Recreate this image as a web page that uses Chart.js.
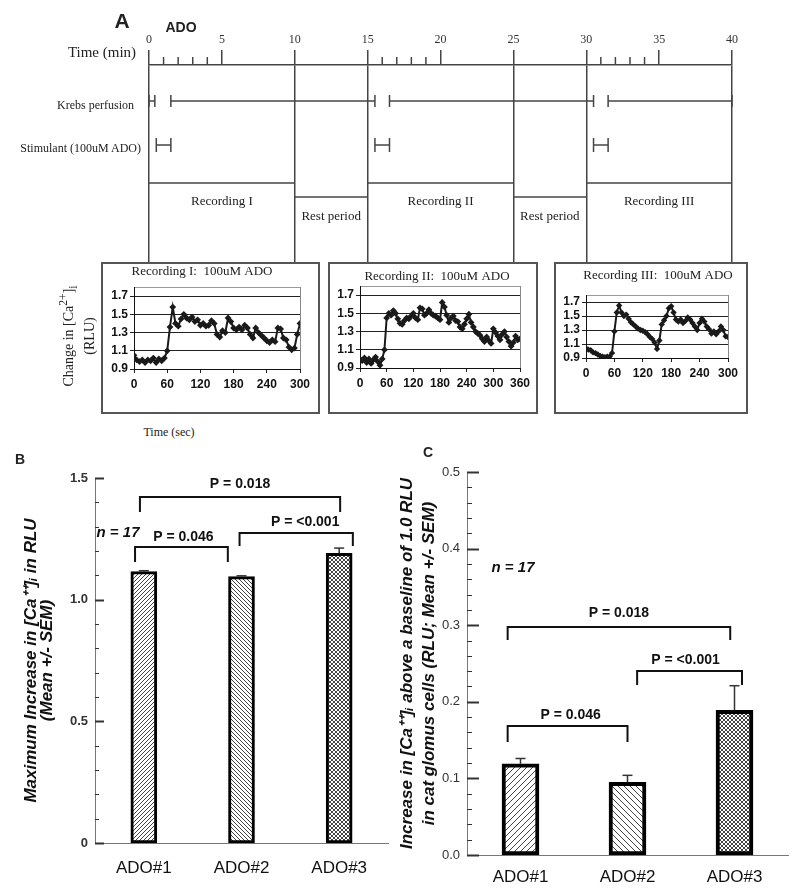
<!DOCTYPE html>
<html>
<head>
<meta charset="utf-8">
<title>ADO and glomus cell calcium</title>
<script src="https://cdn.jsdelivr.net/npm/chart.js@4.4.1/dist/chart.umd.min.js"></script>
<style>
  body { margin: 0; background: #fff; }
  #fig { position: relative; width: 800px; height: 892px; overflow: hidden; background: #fff; color: #222;
         font-family: 'Liberation Serif', 'Times New Roman', serif; }
  #fig canvas { position: absolute; }
  .box { position: absolute; border: 2px solid #555; box-sizing: border-box; }
  .t { position: absolute; white-space: nowrap; line-height: 1; transform: translate(-50%, -50%); }
  .r { transform: translate(-100%, -50%); }
  .v { transform: translate(-50%, -50%) rotate(-90deg); text-align: center; }
  .sans { font-family: 'Liberation Sans', Arial, sans-serif; font-weight: bold; }
</style>
</head>
<body>
<div id="fig">
  <canvas id="timeline" width="800" height="263" style="left:0;top:0"></canvas>
  <div class="t sans" style="left:122px;top:20px;font-size:21px">A</div>
  <div class="t sans" style="left:181px;top:27px;font-size:14px">ADO</div>
  <div class="t" style="left:102px;top:52px;font-size:15px">Time (min)</div>
  <div class="t r" style="left:134px;top:105px;font-size:12px">Krebs perfusion</div>
  <div class="t r" style="left:141px;top:148px;font-size:12px">Stimulant (100uM ADO)</div>

  <div class="box" style="left:101px;top:262px;width:219px;height:152px"></div>
  <div class="box" style="left:328px;top:262px;width:210px;height:152px"></div>
  <div class="box" style="left:554px;top:262px;width:194px;height:152px"></div>
  <canvas id="rec1" width="215" height="148" style="left:103px;top:264px"></canvas>
  <canvas id="rec2" width="206" height="148" style="left:330px;top:264px"></canvas>
  <canvas id="rec3" width="190" height="148" style="left:556px;top:264px"></canvas>
  <div class="t v" style="left:77px;top:336px;font-size:14px;line-height:17px">Change in [Ca<sup>2+</sup>]<sub>i</sub><br>(RLU)</div>
  <div class="t" style="left:169px;top:432px;font-size:12px">Time (sec)</div>

  <canvas id="barB" width="400" height="450" style="left:0;top:440px"></canvas>
  <canvas id="barC" width="408" height="450" style="left:392px;top:440px"></canvas>
  <div class="t sans" style="left:20px;top:459px;font-size:14px">B</div>
  <div class="t sans" style="left:428px;top:452px;font-size:14px">C</div>
</div>

<script>
const SERIF = "'Liberation Serif', 'Times New Roman', serif";
const SANS = "'Liberation Sans', Arial, sans-serif";
const NARROW = "'Liberation Sans Narrow', 'Liberation Sans', Arial, sans-serif";

// --- panel A: protocol, in minutes ---
const minuteTicks = [0, 5, 10, 15, 20, 25, 30, 35, 40];
const minorMinutes = [1, 2, 3, 4, 16, 17, 18, 19, 31, 32, 33, 34];
const boundaries = [0, 10, 15, 25, 30, 40];
const krebs = [[0, 0.4], [1.5, 15.5], [16.5, 30.5], [31.5, 40]];
const stimulant = [[0.5, 1.5], [15.5, 16.5], [30.5, 31.5]];
const recordings = [[0, 10], [15, 25], [30, 40]];
const recordingNames = ['Recording I', 'Recording II', 'Recording III'];
const rests = [[10, 15], [25, 30]];

// --- panel A: traces, change in [Ca2+]i (RLU), one reading every 5 s ---
const SAMPLE_SEC = 5;
const rec1 = [1.05, 1.00, 0.98, 1.00, 0.97, 1.00, 0.99, 1.02, 0.97, 1.01, 0.99, 1.02,
  1.10, 1.36, 1.58, 1.40, 1.37, 1.45, 1.50, 1.46, 1.44, 1.47, 1.42, 1.44,
  1.38, 1.40, 1.37, 1.38, 1.43, 1.40, 1.28, 1.25, 1.32, 1.30, 1.46, 1.42,
  1.35, 1.33, 1.36, 1.33, 1.38, 1.35, 1.28, 1.24, 1.35, 1.30, 1.27, 1.24,
  1.21, 1.19, 1.22, 1.20, 1.35, 1.34, 1.24, 1.22, 1.14, 1.11, 1.13, 1.28, 1.40];
const rec2 = [1.00, 0.98, 1.01, 0.96, 1.00, 0.95, 0.99, 1.02, 0.97, 0.93, 1.00,
  1.10, 1.45, 1.50, 1.48, 1.53, 1.50, 1.44, 1.39, 1.38, 1.42, 1.45, 1.44, 1.47,
  1.50, 1.45, 1.43, 1.56, 1.55, 1.48, 1.50, 1.54, 1.50, 1.48, 1.47, 1.45,
  1.43, 1.62, 1.57, 1.48, 1.40, 1.45, 1.47, 1.42, 1.41, 1.35, 1.33, 1.38,
  1.44, 1.49, 1.40, 1.35, 1.30, 1.28, 1.26, 1.22, 1.19, 1.24, 1.20, 1.17,
  1.33, 1.29, 1.25, 1.21, 1.27, 1.30, 1.24, 1.19, 1.14, 1.18, 1.25, 1.21, 1.22];
const rec3 = [1.04, 1.02, 1.01, 0.98, 0.97, 0.95, 0.93, 0.92, 0.91, 0.92, 0.92, 0.97,
  1.28, 1.55, 1.65, 1.55, 1.50, 1.52, 1.46, 1.41, 1.38, 1.35, 1.32, 1.30,
  1.29, 1.27, 1.24, 1.20, 1.17, 1.12, 1.03, 1.15, 1.38, 1.44, 1.50, 1.61,
  1.64, 1.55, 1.45, 1.42, 1.45, 1.40, 1.43, 1.48, 1.45, 1.40, 1.35, 1.30,
  1.40, 1.46, 1.42, 1.35, 1.31, 1.25, 1.28, 1.24, 1.28, 1.35, 1.30, 1.21, 1.20];
const secTicks300 = [0, 60, 120, 180, 240, 300];
const secTicks360 = [0, 60, 120, 180, 240, 300, 360];
const rluTicks = [0.9, 1.1, 1.3, 1.5, 1.7];

// --- panels B and C ---
const groups = ['ADO#1', 'ADO#2', 'ADO#3'];
const maxRise = [1.115, 1.095, 1.19];
const maxRiseSem = [0.004, 0.003, 0.022];
const riseAboveBase = [0.119, 0.095, 0.189];
const riseAboveBaseSem = [0.007, 0.009, 0.032];
const maxRiseTicks = [0, 0.5, 1.0, 1.5];
const aboveBaseTicks = [0, 0.1, 0.2, 0.3, 0.4, 0.5];
const comparedPairs = [[0, 2], [1, 2], [0, 1]];
const pLabels = ['P = 0.018', 'P = <0.001', 'P = 0.046'];
const nLabel = 'n = 17';

Chart.defaults.font.family = SANS;
const base = { responsive: false, animation: false, devicePixelRatio: 1,
  plugins: { legend: { display: false }, tooltip: { enabled: false } } };

function line(ctx, x1, y1, x2, y2) {
  ctx.beginPath(); ctx.moveTo(x1, y1); ctx.lineTo(x2, y2); ctx.stroke();
}

// ---------- panel A timeline ----------
const protocolPlugin = {
  id: 'protocol',
  afterDraw(chart) {
    const { ctx, chartArea: { top } } = chart;
    const x = chart.scales.x;
    const px = m => x.getPixelForValue(m);
    ctx.save();
    ctx.strokeStyle = '#444';
    ctx.lineWidth = 1.5;
    minorMinutes.forEach(m => line(ctx, px(m), top - 8, px(m), top));
    const spans = (list, y, cap) => list.forEach(([a, b]) => {
      line(ctx, px(a), y, px(b), y);
      if (cap) {
        line(ctx, px(a), y - cap, px(a), y + cap);
        line(ctx, px(b), y - cap, px(b), y + cap);
      }
    });
    spans(krebs, top + 36, 6);
    spans(stimulant, top + 80, 7);
    spans(recordings, top + 118, 0);
    spans(rests, top + 132, 0);
    ctx.fillStyle = '#222';
    ctx.font = `13px ${SERIF}`;
    ctx.textAlign = 'center';
    ctx.textBaseline = 'middle';
    recordings.forEach(([a, b], i) => ctx.fillText(recordingNames[i], (px(a) + px(b)) / 2, top + 137));
    rests.forEach(([a, b]) => ctx.fillText('Rest period', (px(a) + px(b)) / 2, top + 152));
    ctx.restore();
  }
};

new Chart(document.getElementById('timeline'), {
  type: 'scatter',
  data: { datasets: [] },
  options: {
    ...base,
    layout: { padding: { left: 149, right: 68, top: 0, bottom: 0 } },
    scales: {
      x: {
        type: 'linear', position: 'top', min: 0, max: 40,
        afterBuildTicks: s => { s.ticks = minuteTicks.map(v => ({ value: v })); },
        afterFit: s => { s.height = 65; },
        ticks: { font: { family: SERIF, size: 12 }, color: '#333', padding: 3, maxRotation: 0, autoSkip: false },
        grid: {
          tickLength: 15, lineWidth: 1.5, tickColor: '#444',
          color: c => (c.tick && boundaries.includes(c.tick.value)) ? '#444' : 'rgba(0,0,0,0)'
        },
        border: { color: '#444', width: 1.5 }
      },
      y: { display: false, min: 0, max: 1 }
    }
  },
  plugins: [protocolPlugin]
});

// ---------- panel A recordings ----------
function plotFrame(title, tx, ty) {
  return {
    id: 'plotFrame',
    afterDraw(chart) {
      const { ctx, chartArea: a } = chart;
      ctx.save();
      ctx.strokeStyle = '#888';
      ctx.lineWidth = 1;
      const xr = Math.round(a.right) + 0.5;
      line(ctx, xr, a.top, xr, a.bottom);
      ctx.fillStyle = '#222';
      ctx.font = `13px ${SERIF}`;
      ctx.textAlign = 'center';
      ctx.textBaseline = 'middle';
      ctx.fillText(title, tx, ty);
      ctx.restore();
    }
  };
}

function recordingChart(id, values, xTicks, box, title) {
  const tickFont = { family: NARROW, size: 12, weight: 'bold' };
  const isTop = c => c.tick && c.tick.value > rluTicks[rluTicks.length - 1];
  return new Chart(document.getElementById(id), {
    type: 'line',
    data: {
      datasets: [{
        data: values.map((v, i) => ({ x: i * SAMPLE_SEC, y: v })),
        borderColor: '#1a1a1a', borderWidth: 2,
        pointStyle: 'rectRot', pointRadius: box.dot, pointBorderWidth: 0,
        pointBackgroundColor: '#1a1a1a'
      }]
    },
    options: {
      ...base,
      layout: { padding: { top: box.top, right: box.right, left: 0, bottom: 0 } },
      scales: {
        x: {
          type: 'linear', min: 0, max: xTicks[xTicks.length - 1],
          afterBuildTicks: s => { s.ticks = xTicks.map(v => ({ value: v })); },
          afterFit: s => { s.height = box.xh; },
          ticks: { font: tickFont, color: '#111', padding: 4, maxRotation: 0, autoSkip: false },
          grid: { drawOnChartArea: false, tickLength: 4, color: '#222' },
          border: { color: '#111', width: 1 }
        },
        y: {
          min: 0.9, max: 1.8,
          afterBuildTicks: s => { s.ticks = rluTicks.concat([1.8]).map(v => ({ value: v })); },
          afterFit: s => { s.width = box.left; },
          ticks: { font: tickFont, color: '#111', padding: 2, autoSkip: false,
                   callback: v => v > 1.75 ? '' : v.toFixed(1) },
          grid: {
            tickLength: 4, lineWidth: 1,
            color: c => isTop(c) ? '#999' : '#222',
            tickColor: c => isTop(c) ? 'rgba(0,0,0,0)' : '#222'
          },
          border: { color: '#111', width: 1 }
        }
      }
    },
    plugins: [plotFrame(title, box.tx, box.ty)]
  });
}

recordingChart('rec1', rec1, secTicks300, { left: 31, right: 18, top: 23, xh: 43, tx: 99, ty: 8, dot: 3.4 }, 'Recording I:  100uM ADO');
recordingChart('rec2', rec2, secTicks360, { left: 30, right: 16, top: 22, xh: 44, tx: 107, ty: 13, dot: 3.4 }, 'Recording II:  100uM ADO');
recordingChart('rec3', rec3, secTicks300, { left: 30, right: 18, top: 31, xh: 54, tx: 102, ty: 12, dot: 3.2 }, 'Recording III:  100uM ADO');

// ---------- panels B and C ----------
function hatch(ctx, kind, size) {
  const tile = document.createElement('canvas');
  tile.width = tile.height = size;
  const g = tile.getContext('2d');
  g.fillStyle = '#fff';
  g.fillRect(0, 0, size, size);
  g.strokeStyle = '#444';
  g.lineWidth = 1;
  g.beginPath();
  if (kind !== '\\') {
    g.moveTo(-1, size + 1); g.lineTo(size + 1, -1);
    g.moveTo(-1, 1); g.lineTo(1, -1);
    g.moveTo(size - 1, size + 1); g.lineTo(size + 1, size - 1);
  }
  if (kind !== '/') {
    g.moveTo(-1, -1); g.lineTo(size + 1, size + 1);
    g.moveTo(size - 1, -1); g.lineTo(size + 1, 1);
    g.moveTo(-1, size - 1); g.lineTo(1, size + 1);
  }
  g.stroke();
  return ctx.createPattern(tile, 'repeat');
}

function inwardTicks(ticks, minorStep, majorLen, minorLen) {
  return {
    id: 'inwardTicks',
    afterDraw(chart) {
      const { ctx, chartArea: a } = chart;
      const y = chart.scales.y;
      ctx.save();
      ctx.strokeStyle = '#333';
      const n = Math.round((y.max - y.min) / minorStep);
      for (let i = 0; i <= n; i++) {
        const v = y.min + i * minorStep;
        const major = ticks.some(t => Math.abs(t - v) < 1e-6);
        const py = Math.round(y.getPixelForValue(v)) + 0.5;
        ctx.lineWidth = major ? 2 : 1;
        line(ctx, a.left, py, a.left + (major ? majorLen : minorLen), py);
      }
      ctx.restore();
    }
  };
}

function errorBars(sem, cap) {
  return {
    id: 'errorBars',
    afterDatasetsDraw(chart) {
      const { ctx } = chart;
      const y = chart.scales.y;
      const vals = chart.data.datasets[0].data;
      ctx.save();
      ctx.strokeStyle = '#333';
      ctx.lineWidth = 1.5;
      chart.getDatasetMeta(0).data.forEach((bar, i) => {
        const y0 = y.getPixelForValue(vals[i]);
        const y1 = y.getPixelForValue(vals[i] + sem[i]);
        line(ctx, bar.x, y0, bar.x, y1);
        line(ctx, bar.x - cap, y1, bar.x + cap, y1);
      });
      ctx.restore();
    }
  };
}

// bracket layout: level in data units, end offsets in category steps, leg drop in px
function comparisons(layout, nAt) {
  return {
    id: 'comparisons',
    afterDraw(chart) {
      const { ctx, chartArea: a } = chart;
      const x = chart.scales.x, y = chart.scales.y;
      const p0 = x.getPixelForValue(0), step = x.getPixelForValue(1) - p0;
      ctx.save();
      ctx.strokeStyle = '#111';
      ctx.fillStyle = '#111';
      ctx.lineWidth = 2;
      ctx.textAlign = 'center';
      ctx.textBaseline = 'middle';
      ctx.font = `bold 14px ${SANS}`;
      comparedPairs.forEach(([g1, g2], i) => {
        const L = layout[i];
        const xa = p0 + (g1 + L.da) * step, xb = p0 + (g2 + L.db) * step;
        const yl = Math.round(y.getPixelForValue(L.at));
        ctx.beginPath();
        ctx.moveTo(xa, yl + L.drop); ctx.lineTo(xa, yl); ctx.lineTo(xb, yl); ctx.lineTo(xb, yl + L.drop);
        ctx.stroke();
        ctx.fillText(pLabels[i], (xa + xb) / 2 + L.dx, yl - L.up);
      });
      ctx.font = `italic bold 15px ${SANS}`;
      ctx.fillText(nLabel, a.left + nAt.dx, y.getPixelForValue(nAt.at));
      ctx.restore();
    }
  };
}

function barChart(id, values, sem, cfg) {
  const ctx = document.getElementById(id).getContext('2d');
  return new Chart(ctx, {
    type: 'bar',
    data: {
      labels: groups,
      datasets: [{
        data: values,
        backgroundColor: [hatch(ctx, '/', cfg.tile), hatch(ctx, '\\', cfg.tile), hatch(ctx, 'x', 4)],
        borderColor: '#000', borderWidth: cfg.border, borderSkipped: false,
        barThickness: cfg.barWidth
      }]
    },
    options: {
      ...base,
      layout: { padding: { top: cfg.top, right: cfg.right, left: 0, bottom: 0 } },
      scales: {
        x: {
          afterFit: s => { s.height = cfg.xh; },
          grid: { display: false, drawTicks: false },
          border: { color: '#777', width: 1 },
          ticks: { font: { family: NARROW, size: 17 }, color: '#111', padding: cfg.xPad }
        },
        y: {
          min: 0, max: cfg.ticks[cfg.ticks.length - 1],
          afterBuildTicks: s => { s.ticks = cfg.ticks.map(v => ({ value: v })); },
          afterFit: s => { s.width = cfg.yw; },
          grid: { display: false, drawTicks: false },
          border: { color: '#777', width: 1 },
          ticks: { font: cfg.tickFont, color: '#333', padding: 7, autoSkip: false, callback: cfg.fmt },
          title: {
            display: true, text: cfg.title, color: '#111',
            font: { family: SANS, size: 17, weight: 'bold', style: 'italic', lineHeight: cfg.titleLine },
            padding: { top: cfg.titlePad, bottom: 0 }
          }
        }
      }
    },
    plugins: [
      inwardTicks(cfg.ticks, cfg.minor, cfg.majorLen, cfg.minorLen),
      errorBars(sem, 5),
      comparisons(cfg.brackets, cfg.n)
    ]
  });
}

barChart('barB', maxRise, maxRiseSem, {
  tile: 4, border: 3, barWidth: 26,
  top: 38, right: 12, xh: 47, yw: 95, xPad: 15,
  ticks: maxRiseTicks, minor: 0.1, majorLen: 9, minorLen: 4,
  tickFont: { family: SANS, size: 13, weight: 'bold' },
  fmt: v => v === 0 ? '0' : v.toFixed(1),
  title: ['Maximum Increase in [Ca\u207A\u207A]\u1D62 in RLU', '(Mean +/- SEM)'],
  titleLine: 16 / 17, titlePad: 23,
  brackets: [
    { at: 1.422, da: -0.04, db: 0.01, drop: 15, up: 13, dx: 0 },
    { at: 1.274, da: -0.02, db: 0.14, drop: 13, up: 11, dx: 9 },
    { at: 1.217, da: -0.09, db: -0.14, drop: 15, up: 10, dx: 2 }
  ],
  n: { at: 1.274, dx: 23 }
});

barChart('barC', riseAboveBase, riseAboveBaseSem, {
  tile: 6, border: 4, barWidth: 37,
  top: 32, right: 12, xh: 35, yw: 75, xPad: 12,
  ticks: aboveBaseTicks, minor: 0.02, majorLen: 12, minorLen: 5,
  tickFont: { family: SANS, size: 13 },
  fmt: v => v.toFixed(1),
  title: ['Increase in [Ca\u207A\u207A]\u1D62 above a baseline of 1.0 RLU', 'in cat glomus cells (RLU; Mean +/- SEM)'],
  titleLine: 22 / 17, titlePad: 4,
  brackets: [
    { at: 0.298, da: -0.12, db: -0.04, drop: 13, up: 14, dx: 0 },
    { at: 0.240, da: 0.09, db: 0.07, drop: 14, up: 11, dx: -4 },
    { at: 0.168, da: -0.12, db: 0.0, drop: 16, up: 11, dx: 3 }
  ],
  n: { at: 0.375, dx: 46 }
});
</script>
</body>
</html>
